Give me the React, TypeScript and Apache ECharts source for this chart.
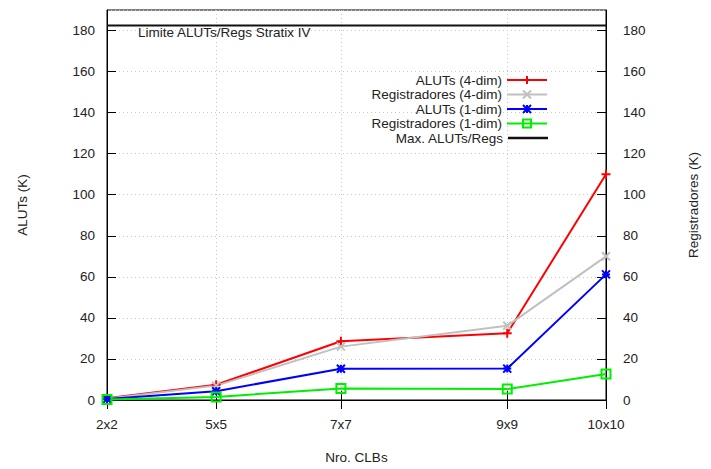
import React, { useEffect, useRef } from "react";
import * as echarts from "echarts";

const clbs = [4, 25, 49, 81, 100];
const clbLabels = ["2x2", "5x5", "7x7", "9x9", "10x10"];
const aluts4 = [0.8, 7.4, 28.6, 32.5, 110];
const regs4 = [0.6, 7.0, 26.0, 36.2, 70];
const aluts1 = [0.5, 4.3, 15.2, 15.3, 61.2];
const regs1 = [0.3, 1.5, 5.6, 5.3, 12.7];
const maxLimit = 182.4;
const seriesNames = [
  "ALUTs (4-dim)",
  "Registradores (4-dim)",
  "ALUTs (1-dim)",
  "Registradores (1-dim)",
  "Max. ALUTs/Regs",
];

const FONT = "Liberation Sans";
const TXT = "#222";
const FS = 13.5;

const plusPath = "path://M5,0L5,10M0,5L10,5";
const crossPath = "path://M0,0L10,10M10,0L0,10";
const starPath = "path://M0,0L10,10M10,0L0,10M5,0L5,10M0,5L10,5";

export default function App() {
  const ref = useRef<HTMLDivElement>(null);
  useEffect(() => {
    if (!ref.current) return;
    const chart = echarts.init(ref.current, undefined, { renderer: "svg" });
    const pair = (ys: number[]) => clbs.map((x, i) => [x, ys[i]]);
    const mk = (
      name: string,
      ys: number[],
      color: string,
      symbol: string,
      size: number,
      yAxisIndex: number,
      fill?: string
    ) => ({
      name,
      type: "line",
      yAxisIndex,
      data: pair(ys),
      symbol,
      symbolSize: size,
      showAllSymbol: true,
      lineStyle: { color, width: 2 },
      itemStyle: { color: fill ?? color, borderColor: color, borderWidth: 2 },
      z: 3,
    });
    const legendTops = [73, 87.5, 102, 116.5, 131];
    const legends: any[] = seriesNames.map((n, i) => {
      const base: any = {
        data: [n],
        orient: "vertical",
        right: 163,
        top: legendTops[i],
        padding: 0,
        align: "right",
        itemWidth: 40,
        itemHeight: 10,
        textStyle: { fontFamily: FONT, fontSize: FS, color: TXT },
        selectedMode: false,
      };
      if (i === seriesNames.length - 1) {
        base.data = [{ name: n, icon: "rect" }];
        base.itemHeight = 2.5;
      }
      return base;
    });
    chart.setOption({
      animation: false,
      textStyle: { fontFamily: FONT },
      grid: {
        left: 107,
        right: 105,
        top: 10,
        bottom: 66,
        show: true,
        borderColor: "#000",
        borderWidth: 1,
        containLabel: false,
      },
      legend: legends,
      xAxis: [
        {
          type: "value",
          min: 4,
          max: 100,
          name: "Nro. CLBs",
          nameLocation: "middle",
          nameGap: 50,
          nameTextStyle: { fontFamily: FONT, fontSize: FS, color: TXT },
          axisLine: { show: true, lineStyle: { color: "#000", width: 1 } },
          axisTick: {
            show: true,
            inside: true,
            length: 9,
            customValues: clbs,
            lineStyle: { color: "#000" },
          },
          axisLabel: {
            customValues: clbs,
            margin: 17,
            fontFamily: FONT,
            fontSize: FS,
            color: TXT,
            formatter: (v: number) => {
              const i = clbs.indexOf(v);
              return i >= 0 ? clbLabels[i] : "";
            },
          },
          splitLine: {
            show: true,
            lineStyle: { color: "#c8c8c8", type: [1, 3], width: 1 },
          },
        },
        {
          type: "value",
          min: 4,
          max: 100,
          position: "top",
          axisLine: { show: false },
          axisTick: {
            show: true,
            inside: true,
            length: 9,
            customValues: clbs,
            lineStyle: { color: "#000" },
          },
          axisLabel: { show: false },
          splitLine: { show: false },
        },
      ],
      yAxis: [
        {
          type: "value",
          min: 0,
          max: 190,
          interval: 20,
          name: "ALUTs (K)",
          nameLocation: "middle",
          nameGap: 78,
          nameRotate: 90,
          nameTextStyle: { fontFamily: FONT, fontSize: FS, color: TXT },
          axisLine: { show: true, lineStyle: { color: "#000", width: 1 } },
          axisTick: { show: true, inside: true, length: 9, lineStyle: { color: "#000" } },
          axisLabel: {
            showMaxLabel: false,
            margin: 12,
            fontFamily: FONT,
            fontSize: FS,
            color: TXT,
          },
          splitLine: {
            show: true,
            lineStyle: { color: "#c8c8c8", type: [1, 3], width: 1 },
          },
        },
        {
          type: "value",
          min: 0,
          max: 190,
          interval: 20,
          position: "right",
          name: "Registradores (K)",
          nameLocation: "middle",
          nameGap: 80,
          nameRotate: 90,
          nameTextStyle: { fontFamily: FONT, fontSize: FS, color: TXT },
          axisLine: { show: true, lineStyle: { color: "#000", width: 1 } },
          axisTick: { show: true, inside: true, length: 9, lineStyle: { color: "#000" } },
          axisLabel: {
            showMaxLabel: false,
            margin: 17,
            fontFamily: FONT,
            fontSize: FS,
            color: TXT,
          },
          splitLine: { show: false },
        },
      ],
      graphic: [
        {
          type: "text",
          left: 138,
          top: 25,
          z: 10,
          style: {
            text: "Limite ALUTs/Regs Stratix IV",
            fontFamily: FONT,
            fontSize: FS,
            fill: TXT,
          },
        },
      ],
      series: [
        mk(seriesNames[0], aluts4, "#ff0000", plusPath, 9, 0),
        mk(seriesNames[1], regs4, "#c0c0c0", crossPath, 8, 1),
        mk(seriesNames[2], aluts1, "#0000ff", starPath, 8, 0),
        mk(seriesNames[3], regs1, "#00ee00", "rect", 9, 1, "rgba(255,255,255,0)"),
        {
          name: seriesNames[4],
          type: "line",
          data: [
            [clbs[0], maxLimit],
            [clbs[clbs.length - 1], maxLimit],
          ],
          symbol: "none",
          lineStyle: { color: "#111", width: 2 },
          itemStyle: { color: "#111" },
          z: 2,
        },
      ],
    });
    return () => chart.dispose();
  }, []);
  return (
    <div
      ref={ref}
      style={{ width: 711, height: 469, position: "absolute", left: 0, top: 0, background: "#fff" }}
    />
  );
}
